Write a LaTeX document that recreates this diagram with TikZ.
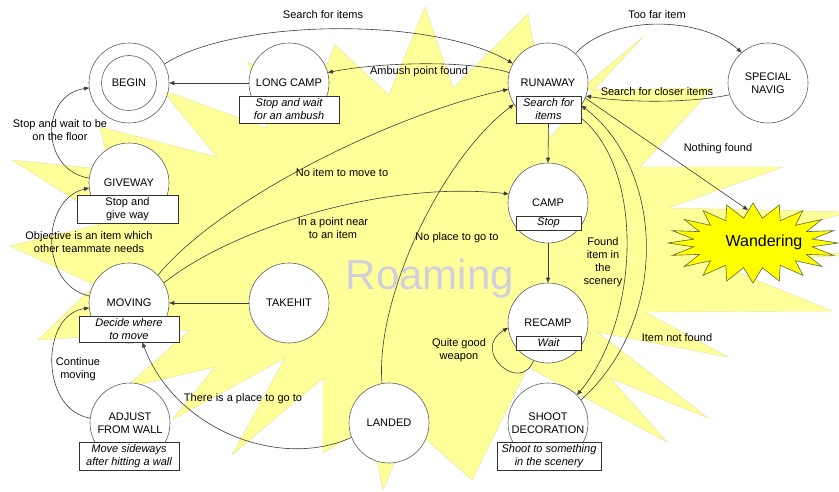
\documentclass[tikz,border=0pt]{standalone}
\usepackage{fontspec}
\setmainfont{Liberation Sans}
\usetikzlibrary{arrows.meta}
\definecolor{burstyellow}{RGB}{255,255,153}
\definecolor{burstedge}{RGB}{228,228,150}
\definecolor{roamgray}{RGB}{208,208,220}
\definecolor{wandyellow}{RGB}{255,255,0}
\definecolor{wandedge}{RGB}{100,100,60}
\definecolor{circgray}{RGB}{95,95,95}
\definecolor{boxgray}{RGB}{50,50,50}
\definecolor{linegray}{RGB}{60,60,60}
\begin{document}
\begin{tikzpicture}[x=1pt,y=-1pt,
  every node/.style={font=\fontsize{11}{13}\selectfont, text=black},
  state/.style={circle, draw=circgray, fill=white, line width=0.6pt, minimum size=80pt, inner sep=0pt, align=center},
  actbox/.style={draw=boxgray, fill=white, line width=0.8pt, inner sep=0pt, align=center, font=\fontsize{11}{13}\selectfont\itshape},
  plainbox/.style={draw=boxgray, fill=white, line width=0.8pt, inner sep=0pt, align=center},
  lbl/.style={align=center, inner sep=0pt},
  conn/.style={draw=linegray, line width=0.6pt, -{Triangle[length=5pt,width=4pt]}},
]
\useasboundingbox (0,0) rectangle (839,492);
\fill[white] (0,0) rectangle (839,492);

% big background burst
\filldraw[fill=burstyellow, draw=burstedge, line width=0.4pt]
 (12,160) -- (110,170) -- (100,127) -- (217,157) -- (162,90) -- (267,128)
 -- (248,62) -- (312,100) -- (335,45) -- (389,95) -- (425,7) -- (453,88)
 -- (528,14) -- (550,137) -- (643,37) -- (580,90) -- (713,88) -- (640,167)
 -- (783,167) -- (668,208) -- (850,212) -- (740,242) -- (850,255) -- (715,263)
 -- (832,311) -- (645,312) -- (728,357) -- (597,332) -- (708,418) -- (610,378)
 -- (667,442) -- (528,367) -- (472,480) -- (410,425) -- (383,490) -- (370,425)
 -- (323,453) -- (323,378) -- (232,455) -- (285,358) -- (172,420) -- (215,367)
 -- (125,388) -- (190,330) -- (38,340) -- (95,285) -- (10,246) -- (110,222) -- cycle;

\node[font=\fontsize{42}{42}\selectfont, text=roamgray, anchor=base, inner sep=0pt] (roam) at (430,290) {Roaming};

% Wandering burst
\filldraw[fill=wandyellow, draw=wandedge, line width=0.6pt, shift={(753,243)}]
  (85,0) \foreach \i [evaluate=\i as \rx using {isodd(\i) ? 60 : 85}, evaluate=\i as \ry using {isodd(\i) ? 25 : 40}] in {1,...,39} { -- ({cos(\i*9)*\rx},{sin(\i*9)*\ry}) } -- cycle;
\node[font=\fontsize{16}{18}\selectfont] (wand) at (764,242) {Wandering};
\coordinate (wandtop) at (748,210);

% states
\node[state] (begin) at (129,83) {};
\node[state, minimum size=55pt] (begininner) at (129,83) {BEGIN};
\node[state] (longcamp) at (289,83) {LONG CAMP};
\node[state] (runaway) at (548,83) {RUNAWAY};
\node[state] (special) at (768,83) {SPECIAL\\NAVIG};
\node[state] (camp) at (548,203) {CAMP};
\node[state] (giveway) at (129,183) {GIVEWAY};
\node[state] (moving) at (129,303) {MOVING};
\node[state] (takehit) at (289,303) {TAKEHIT};
\node[state] (recamp) at (548,323) {RECAMP};
\node[state] (adjust) at (130,423) {ADJUST\\FROM WALL};
\node[state] (landed) at (389,423) {LANDED};
\node[state] (shoot) at (548,423) {SHOOT\\DECORATION};

% action boxes
\node[actbox, minimum width=100pt, minimum height=27pt] (longcampbox) at (289,109.5) {Stop and wait\\for an ambush};
\node[actbox, minimum width=65pt, minimum height=27pt] (runawaybox) at (548.5,109.5) {Search for\\items};
\node[actbox, minimum width=65pt, minimum height=14pt] (campbox) at (548.5,223) {Stop};
\node[plainbox, minimum width=101pt, minimum height=28pt] (givewaybox) at (127.5,209) {Stop and\\give way};
\node[actbox, minimum width=100pt, minimum height=26pt] (movingbox) at (129,329) {Decide where\\to move};
\node[actbox, minimum width=65pt, minimum height=14pt] (recampbox) at (548.5,343) {Wait};
\node[actbox, minimum width=100pt, minimum height=28pt] (adjustbox) at (129,456) {Move sideways\\after hitting a wall};
\node[actbox, minimum width=104pt, minimum height=28pt] (shootbox) at (549,456) {Shoot to something\\in the scenery};

% connectors
\draw[conn] (begin.28) .. controls (230,20) and (430,15) .. (runaway.151);
\draw[conn] (runaway.165) .. controls (470,60) and (380,62) .. (longcamp.15);
\draw[conn] (longcamp.180) -- (begin.0);
\draw[conn] (runaway.47) .. controls (610,15) and (700,15) .. (special.131);
\draw[conn] (special.197) .. controls (690,103) and (630,103) .. (runaway.-19);
\draw[conn] (runaway.-22) -- (wandtop);
\draw[conn] (runawaybox.south) -- (camp.90);
\draw[conn] (camp.-90) -- (recamp.90);
\draw[conn] (recamp.249) .. controls (520,395) and (470,350) .. (recamp.187);
\draw[conn] (takehit.180) -- (moving.0);
\draw[conn] (moving.44) .. controls (220,200) and (390,115) .. (runaway.189);
\draw[conn] (moving.30) .. controls (230,230) and (380,180) .. (camp.167);
\draw[conn] (landed.100) .. controls (375,300) and (440,160) .. (runaway.212);
\draw[conn] (runawaybox.-15) .. controls (645,170) and (640,320) .. (shoot.44);
\draw[conn] (shoot.35) .. controls (670,320) and (665,170) .. (runaway.-34);
\draw[conn] (landed.201) .. controls (280,470) and (175,430) .. (movingbox.-45);
\draw[conn] (moving.170) .. controls (40,285) and (40,200) .. (giveway.187);
\draw[conn] (giveway.173) .. controls (40,170) and (40,95) .. (begin.187);
\draw[conn] (adjust.173) .. controls (40,410) and (40,315) .. (moving.187);

% labels
\node[lbl] (l1) at (323,15) {Search for items};
\node[lbl] (l2) at (419,72) {Ambush point found};
\node[lbl] (l3) at (657,15) {Too far item};
\node[lbl] (l4) at (657,92) {Search for closer items};
\node[lbl] (l5) at (718,149) {Nothing found};
\node[lbl] (l6) at (342,173) {No item to move to};
\node[lbl] (l7) at (333,228) {In a point near\\to an item};
\node[lbl] (l8) at (457,238) {No place to go to};
\node[lbl] (l9) at (603,262.5) {Found\\item in\\the\\scenery};
\node[lbl] (l10) at (677,338) {Item not found};
\node[lbl] (l11) at (459,350) {Quite good\\weapon};
\node[lbl] (l12) at (243,399) {There is a place to go to};
\node[lbl] (l13) at (89,242) {Objective is an item which\\other teammate needs};
\node[lbl] (l14) at (60,130.5) {Stop and wait to be\\on the floor};
\node[lbl] (l15) at (78,369.5) {Continue\\moving};
\end{tikzpicture}
\end{document}
